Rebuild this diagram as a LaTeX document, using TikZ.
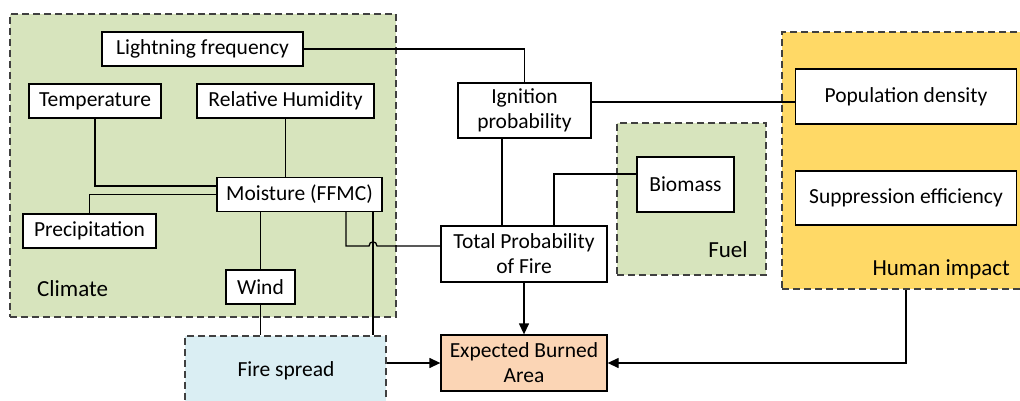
\documentclass[tikz,border=0pt]{standalone}
\usepackage{fontspec}
\setmainfont{Carlito}
\usetikzlibrary{arrows.meta,calc}
\definecolor{cgreen}{HTML}{D7E4BD}
\definecolor{cblue}{HTML}{DAEEF3}
\definecolor{cyellow}{HTML}{FFD966}
\definecolor{corange}{HTML}{FBD5B5}
\definecolor{cdash}{HTML}{404040}
\begin{document}
\begin{tikzpicture}[x=1pt,y=-1pt,
  box/.style={draw=black, fill=white, line width=1.3pt, align=center, inner sep=0pt,
    font=\fontsize{21.5}{25}\selectfont},
  group/.style={draw=cdash, dash pattern=on 7pt off 4pt, line width=1.4pt, inner sep=0pt},
  lbl/.style={font=\fontsize{23}{27}\selectfont, inner sep=0pt},
  conn/.style={line width=1.3pt},
  arr/.style={line width=1.3pt, -{Triangle[length=11pt,width=10pt]}}]
\useasboundingbox (0,0) rectangle (1020,401);
% groups
\node[group, fill=cgreen, minimum width=386pt, minimum height=303pt] (climate) at (203,165.5) {};
\node[group, fill=cgreen, minimum width=149pt, minimum height=152pt] (fuel) at (691.5,199) {};
\node[group, fill=cyellow, minimum width=242pt, minimum height=257pt] (human) at (903,160.5) {};
\node[group, fill=cblue, minimum width=201pt, minimum height=80pt] (fire) at (285.5,376) {};
% group labels
\node[lbl, anchor=west] (climlbl) at (37,289) {Climate};
\node[lbl] (fuellbl) at (728,250) {Fuel};
\node[lbl, anchor=east] (humlbl) at (1010,269) {Human impact};
\node[lbl, font=\fontsize{21.5}{25}\selectfont] (firelbl) at (286,371) {Fire spread};
% boxes
\node[box, minimum width=201pt, minimum height=34pt] (light) at (202.5,49) {Lightning frequency};
\node[box, minimum width=132pt, minimum height=34pt] (temp) at (95,101) {Temperature};
\node[box, minimum width=177pt, minimum height=34pt] (rh) at (285.5,101) {Relative Humidity};
\node[box, minimum width=165pt, minimum height=34pt] (moist) at (299.5,194.5) {Moisture (FFMC)};
\node[box, minimum width=133pt, minimum height=34pt] (prec) at (89.5,231) {Precipitation};
\node[box, minimum width=69pt, minimum height=34pt] (wind) at (260.5,287) {Wind};
\node[box, minimum width=133pt, minimum height=55pt] (ign) at (524.5,110.5) {Ignition\\probability};
\node[box, minimum width=166pt, minimum height=56pt] (total) at (524,254) {Total Probability\\of Fire};
\node[box, minimum width=97pt, minimum height=55pt] (bio) at (685.5,184.5) {Biomass};
\node[box, minimum width=221pt, minimum height=55pt] (pop) at (906,96.5) {Population density};
\node[box, minimum width=221pt, minimum height=54pt] (supp) at (906,198) {Suppression efficiency};
\node[box, fill=corange, minimum width=166pt, minimum height=56pt] (exp) at (524,363) {Expected Burned\\Area};
% helper coordinates
\coordinate (ipy) at (0,102);
\coordinate (hopy) at (0,246);
\coordinate (xa) at (346,0);
\coordinate (xb) at (373,0);
\coordinate (xc) at (502,0);
\coordinate (xd) at (554,0);
\coordinate (xe) at (906,0);
% connectors
\draw[conn] (light.east) -| (ign.north);
\draw[conn] (temp.south) |- ([yshift=8.5pt]moist.west);
\draw[conn] (rh.south) -- (rh.south |- moist.north);
\draw[conn] (prec.north) |- (moist.west);
\draw[conn] (wind.north) -- (wind.north |- moist.south);
\draw[conn] (wind.south) -- (wind.south |- fire.north);
\draw[conn] (xb |- moist.south) -- (xb |- fire.north);
\draw[conn] (xa |- moist.south) -- (xa |- hopy) -- ($(xb |- hopy)+(-4,0)$)
  .. controls ($(xb |- hopy)+(-4,-5.5)$) and ($(xb |- hopy)+(4,-5.5)$) .. ($(xb |- hopy)+(4,0)$)
  -- (total.west |- hopy);
\draw[conn] (ign.east |- ipy) -- (pop.west |- ipy);
\draw[conn] (xc |- ign.south) -- (xc |- total.north);
\draw[conn] ([yshift=10.5pt]bio.west) -| (xd |- total.north);
\draw[arr] (total.south) -- (exp.north);
\draw[arr] (fire.east |- exp.west) -- (exp.west);
\draw[arr] (xe |- human.south) |- (exp.east);
\end{tikzpicture}
\end{document}
